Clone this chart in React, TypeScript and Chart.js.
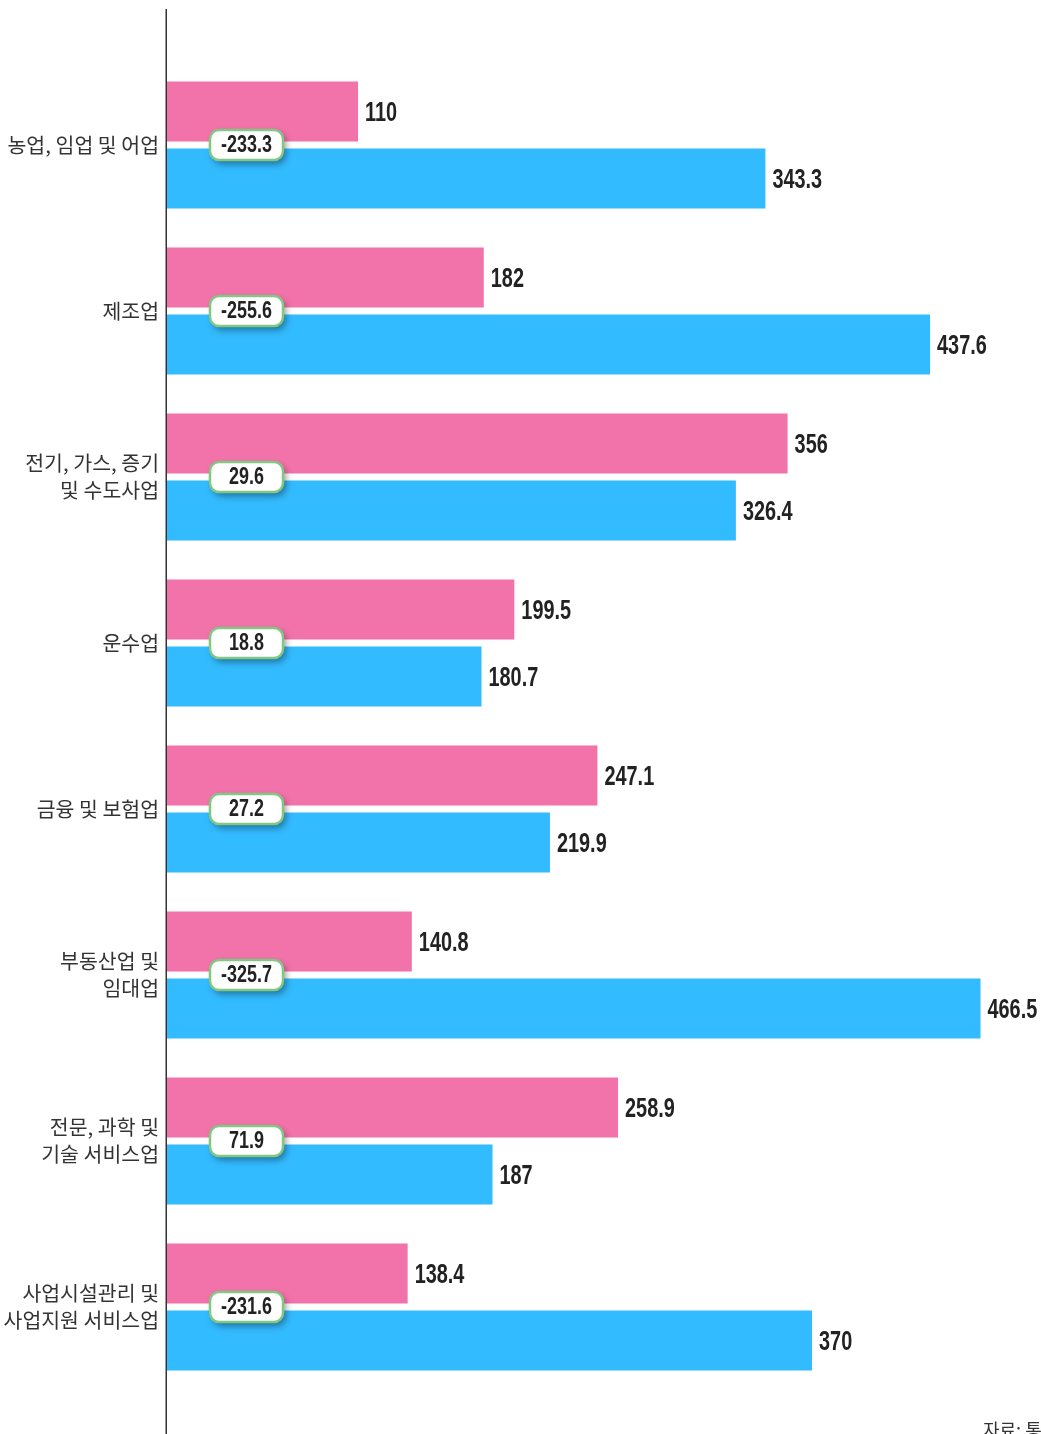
import React, { useEffect, useRef } from "react";
import { Chart, registerables } from "chart.js";

Chart.register(...registerables);

const categories: (string | string[])[] = [
  "농업, 임업 및 어업",
  "제조업",
  ["전기, 가스, 증기", "및 수도사업"],
  "운수업",
  "금융 및 보험업",
  ["부동산업 및", "임대업"],
  ["전문, 과학 및", "기술 서비스업"],
  ["사업시설관리 및", "사업지원 서비스업"],
];
const pinkValues = [110, 182, 356, 199.5, 247.1, 140.8, 258.9, 138.4];
const blueValues = [343.3, 437.6, 326.4, 180.7, 219.9, 466.5, 187, 370];
const diffLabels = ["-233.3", "-255.6", "29.6", "18.8", "27.2", "-325.7", "71.9", "-231.6"];
const sourceText = "자료: 통계청";

const PINK = "#f272aa";
const BLUE = "#33bbff";
const NUM_FONT = "'Liberation Sans', Arial, sans-serif";

const overlayPlugin = {
  id: "overlay",
  afterDatasetsDraw(chart: any) {
    const ctx: CanvasRenderingContext2D = chart.ctx;
    const area = chart.chartArea;
    const xScale = chart.scales.x;
    const yScale = chart.scales.y;
    ctx.save();
    // axis line
    ctx.strokeStyle = "#333";
    ctx.lineWidth = 1.5;
    ctx.beginPath();
    ctx.moveTo(area.left + 0.25, 9);
    ctx.lineTo(area.left + 0.25, chart.height);
    ctx.stroke();

    // value labels
    chart.data.datasets.forEach((ds: any, di: number) => {
      const meta = chart.getDatasetMeta(di);
      meta.data.forEach((bar: any, i: number) => {
        const v = ds.data[i];
        const x = xScale.getPixelForValue(v) + 7;
        const y = bar.y;
        ctx.save();
        ctx.translate(x, y);
        ctx.scale(0.71, 1);
        ctx.font = `bold 28px ${NUM_FONT}`;
        ctx.fillStyle = "#222";
        ctx.textAlign = "left";
        ctx.textBaseline = "middle";
        ctx.fillText(String(v), 0, 2);
        ctx.restore();
      });
    });

    // difference boxes
    const bw = 73, bh = 30, r = 9;
    diffLabels.forEach((lab, i) => {
      const cy = yScale.getPixelForValue(i);
      const cx = 246.5;
      const x0 = cx - bw / 2, y0 = cy - bh / 2;
      ctx.save();
      ctx.shadowColor = "rgba(0,0,0,0.4)";
      ctx.shadowBlur = 7;
      ctx.shadowOffsetX = 3;
      ctx.shadowOffsetY = 4;
      ctx.beginPath();
      ctx.roundRect(x0, y0, bw, bh, r);
      ctx.fillStyle = "#ffffff";
      ctx.fill();
      ctx.restore();
      ctx.save();
      ctx.beginPath();
      ctx.roundRect(x0, y0, bw, bh, r);
      ctx.lineWidth = 2.5;
      ctx.strokeStyle = "#82c782";
      ctx.stroke();
      ctx.translate(cx, cy);
      ctx.scale(0.78, 1);
      ctx.font = `bold 23px ${NUM_FONT}`;
      ctx.fillStyle = "#222";
      ctx.textAlign = "center";
      ctx.textBaseline = "middle";
      ctx.fillText(lab, 0, 1);
      ctx.restore();
    });

    // source
    ctx.font = "18px 'Noto Sans CJK KR', sans-serif";
    ctx.fillStyle = "#333";
    ctx.textAlign = "left";
    ctx.textBaseline = "top";
    ctx.fillText(sourceText, 983, 1421);
    ctx.restore();
  },
};

export default function App() {
  const ref = useRef<HTMLCanvasElement>(null);
  useEffect(() => {
    document.body.style.overflow = "hidden";
    const chart = new Chart(ref.current!, {
      type: "bar",
      data: {
        labels: categories as any,
        datasets: [
          {
            data: pinkValues,
            backgroundColor: PINK,
            barPercentage: 0.8955,
            categoryPercentage: 0.807,
          },
          {
            data: blueValues,
            backgroundColor: BLUE,
            barPercentage: 0.8955,
            categoryPercentage: 0.807,
          },
        ],
      },
      options: {
        indexAxis: "y",
        animation: false,
        responsive: false,
        layout: { padding: { left: 0, right: 2, top: 62, bottom: 44 } },
        plugins: {
          legend: { display: false },
          tooltip: { enabled: false },
        },
        scales: {
          x: {
            display: false,
            min: 0,
            max: 500,
          },
          y: {
            afterFit: (s: any) => {
              s.width = 166;
            },
            grid: { display: false, drawTicks: false },
            border: { display: false },
            ticks: {
              padding: 7,
              color: "#333",
              font: { family: "'Noto Sans CJK KR', sans-serif", size: 20.5, lineHeight: 1.3 },
            },
          },
        },
      },
      plugins: [overlayPlugin],
    });
    return () => chart.destroy();
  }, []);
  return (
    <div style={{ position: "absolute", left: 0, top: 0, width: 1041, height: 1434 }}>
      <canvas ref={ref} width={1041} height={1434} />
    </div>
  );
}
